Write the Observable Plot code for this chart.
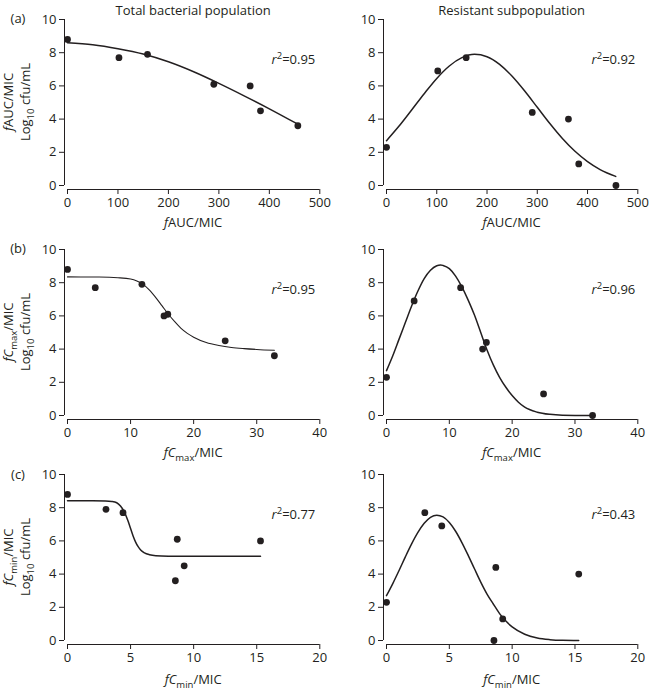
<!DOCTYPE html>
<html>
<head>
<meta charset="utf-8">
<script src="https://cdn.jsdelivr.net/npm/d3@7"></script>
<script src="https://cdn.jsdelivr.net/npm/@observablehq/plot@0.6"></script>
<style>
  body { margin: 0; background: #fff; }
  #chart { position: relative; width: 649px; height: 691px; font-family: "Open Sans", sans-serif; }
  #chart svg { position: absolute; overflow: visible; background: transparent; }
</style>
</head>
<body>
<div id="chart"></div>
<script>
// ---- Data ----
// Seven dosing regimens, same order in every array
const fAUC = [0, 102, 158.5, 290, 362, 382.5, 456.5];
const fCmax = [0, 4.4, 11.8, 15.9, 15.3, 25.0, 32.8];
const fCmin = [0, 4.4, 3.05, 8.7, 15.3, 9.25, 8.55];
const totalPop = [8.8, 7.7, 7.9, 6.1, 6.0, 4.5, 3.6];
const resistantPop = [2.3, 6.9, 7.7, 4.4, 4.0, 1.3, 0.0];

// Fitted curves
const aucTotalFitX = [0, 50, 100, 150, 200, 250, 300, 350, 400, 456];
const aucTotalFitY = [8.60, 8.48, 8.24, 7.92, 7.45, 6.85, 6.15, 5.40, 4.62, 3.70];
const aucResFitX = [0, 25, 50, 75, 100, 125, 150, 175, 200, 225, 250, 275, 300, 325, 350, 375, 400, 425, 456];
const aucResFitY = [2.70, 3.58, 4.55, 5.53, 6.45, 7.20, 7.70, 7.90, 7.76, 7.30, 6.58, 5.69, 4.71, 3.73, 2.83, 2.06, 1.44, 0.96, 0.55];
const cmaxTotalFitX = [0, 5, 8, 10, 11, 12, 13, 14, 15, 16, 17, 18, 19, 20, 22, 24, 26, 28, 30, 32.8];
const cmaxTotalFitY = [8.35, 8.34, 8.30, 8.22, 8.10, 7.90, 7.55, 7.10, 6.60, 6.10, 5.65, 5.25, 4.95, 4.72, 4.40, 4.22, 4.10, 4.03, 3.98, 3.93];
const cmaxResFitX = [0, 1, 2, 3, 4, 5, 6, 7, 8, 8.6, 9, 10, 11, 12, 13, 14, 15, 16, 17, 18, 19, 20, 21, 22, 24, 26, 28, 32.8];
const cmaxResFitY = [2.70, 3.60, 4.60, 5.60, 6.60, 7.50, 8.25, 8.75, 9.02, 9.07, 9.04, 8.85, 8.40, 7.75, 6.95, 6.05, 5.00, 3.95, 3.05, 2.30, 1.70, 1.20, 0.80, 0.50, 0.20, 0.07, 0.02, 0.00];
const cminTotalFitX = [0, 2, 3, 3.5, 3.9, 4.2, 4.5, 4.8, 5.0, 5.2, 5.4, 5.6, 5.8, 6.1, 6.5, 7.0, 8.0, 10, 15.3];
const cminTotalFitY = [8.42, 8.42, 8.41, 8.38, 8.30, 8.10, 7.75, 7.20, 6.75, 6.30, 5.93, 5.65, 5.45, 5.28, 5.17, 5.11, 5.08, 5.07, 5.07];
const cminResFitX = [0, 0.5, 1, 1.5, 2, 2.5, 3, 3.5, 4, 4.5, 5, 5.5, 6, 6.5, 7, 7.5, 8, 8.5, 9, 9.5, 10, 11, 12, 13, 14, 15.3];
const cminResFitY = [2.70, 3.43, 4.22, 5.04, 5.82, 6.51, 7.06, 7.42, 7.55, 7.45, 7.11, 6.58, 5.90, 5.13, 4.32, 3.52, 2.80, 2.20, 1.62, 1.17, 0.82, 0.38, 0.15, 0.05, 0.01, 0.00];

const yTicks = [0, 2, 4, 6, 8, 10];
const aucTicks = [0, 100, 200, 300, 400, 500];
const cmaxTicks = [0, 10, 20, 30, 40];
const cminTicks = [0, 5, 10, 15, 20];

const columnTitles = ["Total bacterial population", "Resistant subpopulation"];
const panelLetters = ["(a)", "(b)", "(c)"];
const r2Labels = [["0.95", "0.92"], ["0.95", "0.96"], ["0.77", "0.43"]];

// rich-text label parts
const aucParts = [{t: "f", i: true}, {t: "AUC/MIC"}];
const cmaxParts = [{t: "fC", i: true}, {t: "max", sub: true}, {t: "/MIC"}];
const cminParts = [{t: "fC", i: true}, {t: "min", sub: true}, {t: "/MIC"}];
const logParts = [{t: "Log"}, {t: "10", sub: true}, {t: " cfu/mL"}];

// ---- Layout ----
const INK = "#231f20";
const FONT = '"Open Sans", sans-serif';
const rowTops = [0, 230, 455];
const rowHeights = [230, 230, 236];
const cols = [
  {left: 0, width: 325, mL: 64, mR: 5.7},
  {left: 325, width: 324, mL: 58, mR: 11.7}
];

function rich(parent, x, y, parts, anchor, transform) {
  const t = parent.append("text").attr("text-anchor", anchor || "middle");
  if (transform) t.attr("transform", transform);
  else t.attr("x", x).attr("y", y);
  let shift = 0;
  parts.forEach(p => {
    const target = p.sub ? 4 : p.sup ? -5 : 0;
    const ts = t.append("tspan").text(p.t).attr("dy", target - shift);
    shift = target;
    if (p.sub || p.sup) ts.attr("font-size", "9.5px");
    if (p.i) ts.attr("font-style", "italic");
  });
  return t;
}

const rows = [
  {xDomain: [0, 500], xTicks: aucTicks, xs: fAUC, parts: aucParts,
   fits: [[aucTotalFitX, aucTotalFitY], [aucResFitX, aucResFitY]]},
  {xDomain: [0, 40], xTicks: cmaxTicks, xs: fCmax, parts: cmaxParts,
   fits: [[cmaxTotalFitX, cmaxTotalFitY], [cmaxResFitX, cmaxResFitY]]},
  {xDomain: [0, 20], xTicks: cminTicks, xs: fCmin, parts: cminParts,
   fits: [[cminTotalFitX, cminTotalFitY], [cminResFitX, cminResFitY]]}
];
const series = [totalPop, resistantPop];

const chart = document.getElementById("chart");

rows.forEach((row, ri) => {
  cols.forEach((col, ci) => {
    const height = rowHeights[ri];
    const pts = row.xs.map((x, i) => ({x, y: series[ci][i]}));
    const [fx, fy] = row.fits[ci];
    const fit = fx.map((x, i) => ({x, y: fy[i]}));
    const thin = (ri === 1 && ci === 0);
    const svg = Plot.plot({
      width: col.width,
      height,
      marginTop: 19,
      marginBottom: height - 189,
      marginLeft: col.mL,
      marginRight: col.mR,
      insetLeft: 3,
      insetBottom: 4,
      x: {domain: row.xDomain},
      y: {domain: [0, 10]},
      style: {fontFamily: FONT, fontSize: "13px", color: INK, background: "transparent", overflow: "visible"},
      marks: [
        Plot.ruleX([row.xDomain[0]], {y1: 0, y2: 10, dx: -3, stroke: INK, strokeWidth: 1}),
        Plot.ruleY([0], {x1: row.xDomain[0], x2: row.xDomain[1], dy: 4, stroke: INK, strokeWidth: 1}),
        Plot.axisX({ticks: row.xTicks, tickSize: 5, tickPadding: 3, label: null, tickFormat: d => String(d)}),
        Plot.axisY({ticks: yTicks, tickSize: 5, tickPadding: 3, label: null, tickFormat: d => String(d)}),
        Plot.line(fit, {x: "x", y: "y", curve: "monotone-x", stroke: INK, strokeWidth: thin ? 1.1 : 1.5}),
        Plot.dot(pts, {x: "x", y: "y", r: 3.4, fill: INK, stroke: "none"})
      ]
    });
    svg.style.left = col.left + "px";
    svg.style.top = rowTops[ri] + "px";
    chart.appendChild(svg);

    const xr = svg.scale("x").range;
    const cx = (xr[0] + xr[1]) / 2;
    const g = d3.select(svg).append("g")
      .attr("fill", INK)
      .style("font-family", FONT)
      .style("font-size", "13px");

    // x axis title
    rich(g, cx, ri === 2 ? 229 : 227, row.parts, "middle");
    // r^2 annotation
    rich(g, col.width - col.mR - (ci === 0 ? 4 : 2), 63.5,
      [{t: "r", i: true}, {t: "2", sup: true}, {t: "=" + r2Labels[ri][ci]}], "end");
    // column titles
    if (ri === 0) {
      g.append("text").attr("x", cx).attr("y", 14.5).attr("text-anchor", "middle").text(columnTitles[ci]);
    }
    // panel letters and y labels on the left column
    if (ci === 0) {
      g.append("text").attr("x", 18).attr("y", ri === 2 ? 24 : 23).text(panelLetters[ri]);
      const cy = (19 + 185) / 2;
      rich(g, 0, 0, row.parts, "middle", `translate(13,${cy}) rotate(-90)`);
      rich(g, 0, 0, logParts, "middle", `translate(29.5,${cy}) rotate(-90)`);
    }
  });
});
</script>
</body>
</html>
